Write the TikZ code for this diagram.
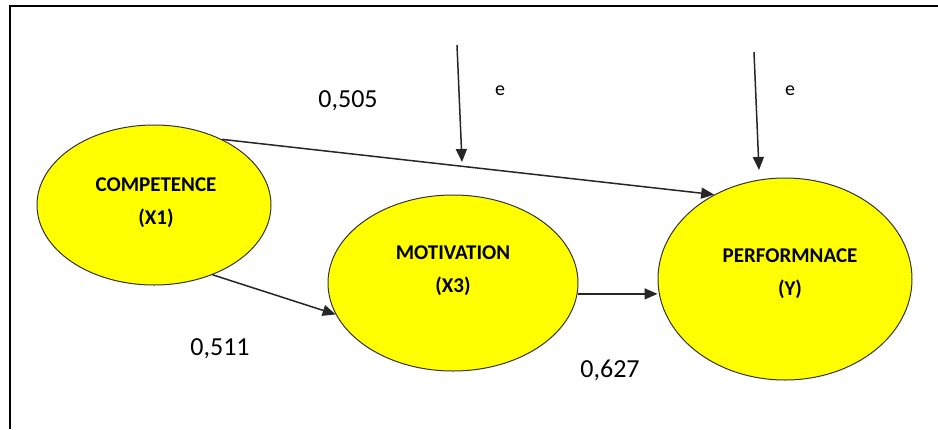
\documentclass[tikz,border=0pt]{standalone}
\usepackage{fontspec}
\setmainfont{Carlito}
\usetikzlibrary{shapes.geometric,arrows.meta}
\definecolor{ylw}{HTML}{FFFF00}
\definecolor{edge}{HTML}{333333}
\tikzset{
  latent/.style={ellipse,draw=edge,line width=1pt,fill=ylw,inner sep=0pt},
  nodetext/.style={align=center,font=\fontsize{21}{33}\selectfont\bfseries,inner sep=0pt},
  coef/.style={font=\fontsize{26}{30}\selectfont,inner sep=0pt},
  errlab/.style={font=\fontsize{20}{24}\selectfont,inner sep=0pt},
  arr/.style={draw=black!85,line width=1.5pt,-{Triangle[length=13pt,width=11pt]}},
  frameline/.style={draw=black,line width=2pt}
}
\begin{document}
\begin{tikzpicture}[x=1pt,y=-1pt]
\useasboundingbox (0,0) rectangle (938,429);
% frame (top and left only)
\coordinate (f1) at (10,429);
\coordinate (f2) at (10,6);
\coordinate (f3) at (938,6);
\draw[frameline] (f1) -- (f2) -- (f3);

% ellipses
\node[latent,minimum width=234pt,minimum height=160pt] (comp) at (154,205) {};
\node[latent,minimum width=250pt,minimum height=176pt] (mot) at (453,283) {};
\node[latent,minimum width=254pt,minimum height=202pt] (perf) at (785,279) {};

% texts
\node[nodetext] (comptext) at (156,203) {COMPETENCE\\(X1)};
\node[nodetext] (mottext) at (453,271) {MOTIVATION\\(X3)};
\node[nodetext] (perftext) at (790,274) {PERFORMNACE\\(Y)};

% paths
\draw[arr] (comp.44.6) -- (perf.130.4);
\draw[arr] (comp.-50) -- (mot.195.6);
\draw[arr] (mot.-5.5) -- (mot.-5.5 -| perf.west);

% error arrows
\coordinate (e1s) at (457,45);
\coordinate (e1e) at (462,162);
\coordinate (e2s) at (754,52);
\coordinate (e2e) at (759,170);
\draw[arr] (e1s) -- (e1e);
\draw[arr] (e2s) -- (e2e);
\node[errlab] (e1) at (500,91) {e};
\node[errlab] (e2) at (790,91) {e};

% coefficients
\node[coef] (c1) at (348,101) {0,505};
\node[coef] (c2) at (220,349) {0,511};
\node[coef] (c3) at (610,370) {0,627};
\end{tikzpicture}
\end{document}
